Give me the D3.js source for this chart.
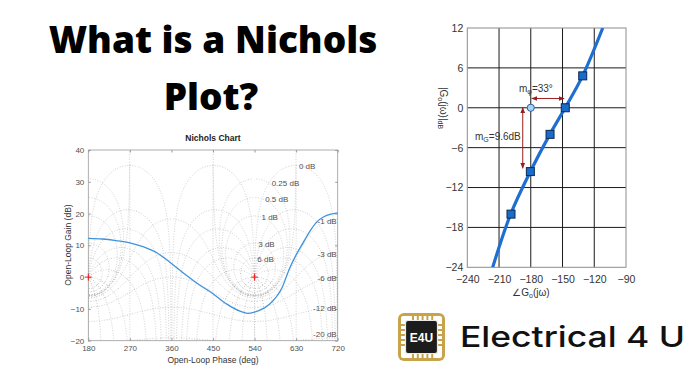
<!DOCTYPE html>
<html>
<head>
<meta charset="utf-8">
<script src="https://cdn.jsdelivr.net/npm/d3@7"></script>
<style>
  body { margin: 0; background: #fff; }
  svg { display: block; }
</style>
</head>
<body>
<script>
// ---- data ----
// open-loop response on the MATLAB style Nichols chart
var olPhase = [180, 210, 240, 270, 300, 330, 360, 390, 420, 450, 480, 510, 525, 540, 570, 600, 615, 630, 645, 660, 675, 690, 705, 720];
var olGain  = [12.2, 12.0, 11.5, 10.8, 9.5, 7.5, 4.3, 0.8, -2.4, -5.2, -8.5, -10.8, -11.4, -11.0, -8.8, -3.2, 2.5, 7.0, 10.8, 14.5, 17.4, 19.0, 19.8, 20.2];
var critPhase = [180, 540];

// grid levels (closed-loop gain in dB, closed-loop phase in deg)
var clGainDb = [6, 3, 1, 0.5, 0.25, 0, -1, -3, -6, -12, -20, -40];
var clPhaseDeg = [1, 5, 10, 20, 30, 50, 90, 120, 150, 180];
var extraPhaseLines = [270, 450, 630];

var ngPhaseTicks = [180, 270, 360, 450, 540, 630, 720];
var ngGainTicks = [-20, -10, 0, 10, 20, 30, 40];

var topLabels = ['0 dB', '0.25 dB', '0.5 dB', '1 dB', '3 dB', '6 dB'];
var topLabelPhase = [636, 577, 563, 555, 548, 546];
var topLabelGain = [35, 29.5, 24.5, 18.8, 10.4, 5.7];
var sideLabels = ['-1 dB', '-3 dB', '-6 dB', '-12 dB', '-20 dB'];
var sideLabelGain = [17.8, 7.3, -0.4, -9.8, -17.9];

// right hand chart: open loop near the critical point with margins
var linePhase = [-216, -199, -180.4, -162, -147.5, -131, -112];
var lineGain  = [-24, -16, -9.6, -4, 0, 4.8, 12];
var markPhase = [-198.7, -180.4, -161.8, -147.4, -130.9];
var markGain  = [-16, -9.6, -4, 0, 4.8];
var pmPhase = [-180, -148.5], pmGain = 1.4;
var gmGain = [0, -9.1], gmPhase = -187.6;
var rPhaseTicks = [-240, -210, -180, -150, -120, -90];
var rGainTicks = [-24, -18, -12, -6, 0, 6, 12];

var svg = d3.select('body').append('svg')
    .attr('width', 700)
    .attr('height', 375);

var defs = svg.append('defs');

// ---- heading ----
var head = svg.append('g')
    .attr('font-family', '"Open Sans", sans-serif')
    .attr('font-weight', 800)
    .attr('font-size', 37)
    .attr('text-anchor', 'middle')
    .attr('fill', '#000');
head.append('text').attr('x', 213).attr('y', 53).text('What is a Nichols');
head.append('text').attr('x', 211).attr('y', 110).text('Plot?');

// ---- left: Nichols chart ----
var L = { x0: 88.3, x1: 337.7, y0: 150, y1: 340.7 };
var nx = d3.scaleLinear().domain([180, 720]).range([L.x0, L.x1]);
var ny = d3.scaleLinear().domain([-20, 40]).range([L.y1, L.y0]);

defs.append('clipPath').attr('id', 'nclip')
  .append('rect')
    .attr('x', L.x0).attr('y', L.y0)
    .attr('width', L.x1 - L.x0).attr('height', L.y1 - L.y0);

// gain contour: |L/(1+L)| = const, swept over closed-loop phase
function mContour(db, c) {
    var m = Math.pow(10, db / 20), pts = [], prev = null;
    for (var i = 1; i < 3600; i++) {
        var th = -i * 0.1 * Math.PI / 180;
        var tr = m * Math.cos(th), ti = m * Math.sin(th);
        var den = (1 - tr) * (1 - tr) + ti * ti;
        var lr = (tr - m * m) / den, li = ti / den;
        var p = Math.atan2(li, lr) * 180 / Math.PI;
        if (prev === null) { if (p > 0) p -= 360; }
        else { while (p - prev > 180) p -= 360; while (prev - p > 180) p += 360; }
        prev = p;
        pts.push([c + 180 + p, 10 * Math.log10(lr * lr + li * li)]);
    }
    return pts;
}

// phase contour: arg(L/(1+L)) = const, swept over 1/L on a ray from -1
function nContour(deg, sign, c) {
    var pts = [];
    if (deg === 180) {
        for (var k = 0; k <= 200; k++) {
            var s = Math.pow(10, k / 40 - 2.5);
            pts.push([c, -20 * Math.log10(1 + s)]);
        }
        return pts;
    }
    var b = sign * deg * Math.PI / 180;
    for (var i = 1; i < 2000; i++) {
        var psi = b + (sign * Math.PI - b) * i / 2000;
        var s2 = Math.sin(psi) / Math.sin(psi - b);
        var wr = -1 + s2 * Math.cos(b), wi = s2 * Math.sin(b);
        var p = -psi * 180 / Math.PI;
        var x = sign > 0 ? c + 180 + p : c + p - 180;
        pts.push([x, -10 * Math.log10(wr * wr + wi * wi)]);
    }
    return pts;
}

var gridLine = d3.line()
    .defined(function(d) { return isFinite(d[1]) && d[1] > -80 && d[1] < 80; })
    .x(function(d) { return nx(d[0]); })
    .y(function(d) { return ny(d[1]); });

var contours = [];
critPhase.forEach(function(c) {
    clGainDb.forEach(function(db) { contours.push(mContour(db, c)); });
    clPhaseDeg.forEach(function(deg) {
        contours.push(nContour(deg, 1, c));
        contours.push(nContour(deg, -1, c));
    });
});
extraPhaseLines.forEach(function(ph) {
    contours.push([[ph, 35.2], [ph, -25]]);
});

var grid = svg.append('g').attr('clip-path', 'url(#nclip)');
grid.selectAll('path.ng')
    .data(contours)
  .enter().append('path')
    .attr('class', 'ng')
    .attr('d', gridLine)
    .attr('fill', 'none')
    .attr('stroke', '#b4b4b4')
    .attr('stroke-width', 0.6)
    .attr('stroke-dasharray', '1,1.6');

// frame + ticks
svg.append('rect')
    .attr('x', L.x0).attr('y', L.y0)
    .attr('width', L.x1 - L.x0).attr('height', L.y1 - L.y0)
    .attr('fill', 'none').attr('stroke', '#9a9a9a').attr('stroke-width', 0.8);

var nAxisB = svg.append('g').attr('transform', 'translate(0,' + L.y1 + ')')
    .call(d3.axisBottom(nx).tickValues(ngPhaseTicks).tickSize(-2.5).tickPadding(5));
var nAxisT = svg.append('g').attr('transform', 'translate(0,' + L.y0 + ')')
    .call(d3.axisTop(nx).tickValues(ngPhaseTicks).tickSize(-2.5).tickFormat(''));
var nAxisL = svg.append('g').attr('transform', 'translate(' + L.x0 + ',0)')
    .call(d3.axisLeft(ny).tickValues(ngGainTicks).tickSize(-2.5).tickPadding(4));
var nAxisR = svg.append('g').attr('transform', 'translate(' + L.x1 + ',0)')
    .call(d3.axisRight(ny).tickValues(ngGainTicks).tickSize(-2.5).tickFormat(''));
[nAxisB, nAxisT, nAxisL, nAxisR].forEach(function(a) {
    a.select('.domain').remove();
    a.selectAll('line').attr('stroke', '#9a9a9a');
    a.selectAll('text')
        .attr('fill', '#4f4f4f')
        .attr('font-size', 8)
        .attr('font-family', '"Liberation Sans", Arial, sans-serif');
});

// contour labels
var labs = svg.append('g')
    .attr('font-family', '"Liberation Sans", Arial, sans-serif')
    .attr('font-size', 8)
    .attr('fill', '#505050');
labs.selectAll('text.top')
    .data(topLabels)
  .enter().append('text')
    .attr('class', 'top')
    .attr('x', function(d, i) { return nx(topLabelPhase[i]); })
    .attr('y', function(d, i) { return ny(topLabelGain[i]) + 3; })
    .text(function(d) { return d; });
labs.selectAll('text.side')
    .data(sideLabels)
  .enter().append('text')
    .attr('class', 'side')
    .attr('x', L.x1 - 1)
    .attr('y', function(d, i) { return ny(sideLabelGain[i]) + 3; })
    .attr('text-anchor', 'end')
    .text(function(d) { return d; });

// open-loop curve
var olLine = d3.line()
    .curve(d3.curveMonotoneX)
    .x(function(d, i) { return nx(olPhase[i]); })
    .y(function(d) { return ny(d); });
svg.append('path')
    .attr('d', olLine(olGain))
    .attr('fill', 'none')
    .attr('stroke', '#3f93dd')
    .attr('stroke-width', 1.3);

// critical points
svg.selectAll('g.crit')
    .data(critPhase)
  .enter().append('path')
    .attr('d', function(d) {
        var x = nx(d), y = ny(0);
        return 'M' + (x - 3.5) + ',' + y + 'H' + (x + 3.5) + 'M' + x + ',' + (y - 3.5) + 'V' + (y + 3.5);
    })
    .attr('stroke', '#f01818')
    .attr('stroke-width', 1);

svg.append('text')
    .attr('x', 213).attr('y', 141)
    .attr('text-anchor', 'middle')
    .attr('font-family', '"Liberation Sans", Arial, sans-serif')
    .attr('font-weight', 'bold')
    .attr('font-size', 8.5)
    .attr('fill', '#222')
    .text('Nichols Chart');
svg.append('text')
    .attr('x', 213).attr('y', 363)
    .attr('text-anchor', 'middle')
    .attr('font-family', '"Liberation Sans", Arial, sans-serif')
    .attr('font-size', 8.5)
    .attr('fill', '#333')
    .text('Open-Loop Phase (deg)');
svg.append('text')
    .attr('transform', 'translate(71,245) rotate(-90)')
    .attr('text-anchor', 'middle')
    .attr('font-family', '"Liberation Sans", Arial, sans-serif')
    .attr('font-size', 8.5)
    .attr('fill', '#333')
    .text('Open-Loop Gain (dB)');

// ---- right: margins plot ----
var R = { x0: 467.3, x1: 626, y0: 28, y1: 267.3 };
var rx = d3.scaleLinear().domain([-240, -90]).range([R.x0, R.x1]);
var ry = d3.scaleLinear().domain([-24, 12]).range([R.y1, R.y0]);

defs.append('clipPath').attr('id', 'rclip')
  .append('rect')
    .attr('x', R.x0).attr('y', R.y0)
    .attr('width', R.x1 - R.x0).attr('height', R.y1 - R.y0);

var rg = svg.append('g');
rg.selectAll('line.vx')
    .data(rPhaseTicks.slice(1, -1))
  .enter().append('line')
    .attr('x1', rx).attr('x2', rx)
    .attr('y1', R.y0).attr('y2', R.y1)
    .attr('stroke', '#1a1a1a').attr('stroke-width', 1);
rg.selectAll('line.hy')
    .data(rGainTicks.slice(1, -1))
  .enter().append('line')
    .attr('x1', R.x0).attr('x2', R.x1)
    .attr('y1', ry).attr('y2', ry)
    .attr('stroke', '#1a1a1a').attr('stroke-width', 1);
rg.append('rect')
    .attr('x', R.x0).attr('y', R.y0)
    .attr('width', R.x1 - R.x0).attr('height', R.y1 - R.y0)
    .attr('fill', 'none').attr('stroke', '#8c8c8c').attr('stroke-width', 1);

var rAxisB = svg.append('g').attr('transform', 'translate(0,' + R.y1 + ')')
    .call(d3.axisBottom(rx).tickValues(rPhaseTicks).tickSize(0).tickPadding(8));
var rAxisL = svg.append('g').attr('transform', 'translate(' + R.x0 + ',0)')
    .call(d3.axisLeft(ry).tickValues(rGainTicks).tickSize(0).tickPadding(4));
[rAxisB, rAxisL].forEach(function(a) {
    a.select('.domain').remove();
    a.selectAll('text')
        .attr('fill', '#333')
        .attr('font-size', 10.5)
        .attr('font-family', '"Liberation Sans", Arial, sans-serif');
});

// margin arrows
var arrowCol = '#9a1d1d';
['s', 'e'].forEach(function(k) {
    defs.append('marker')
        .attr('id', 'ah' + k)
        .attr('viewBox', '0 0 10 10')
        .attr('refX', 9).attr('refY', 5)
        .attr('markerWidth', 6).attr('markerHeight', 6)
        .attr('orient', k === 's' ? 'auto-start-reverse' : 'auto')
      .append('path')
        .attr('d', 'M0,1L10,5L0,9Z')
        .attr('fill', arrowCol);
});
svg.append('line')
    .attr('x1', rx(pmPhase[0]) + 1).attr('x2', rx(pmPhase[1]))
    .attr('y1', ry(pmGain)).attr('y2', ry(pmGain))
    .attr('stroke', arrowCol).attr('stroke-width', 1)
    .attr('marker-start', 'url(#ahs)').attr('marker-end', 'url(#ahe)');
svg.append('line')
    .attr('x1', rx(gmPhase)).attr('x2', rx(gmPhase))
    .attr('y1', ry(gmGain[0])).attr('y2', ry(gmGain[1]))
    .attr('stroke', arrowCol).attr('stroke-width', 1)
    .attr('marker-start', 'url(#ahs)').attr('marker-end', 'url(#ahe)');

var rLine = d3.line()
    .curve(d3.curveCatmullRom)
    .x(function(d, i) { return rx(linePhase[i]); })
    .y(function(d) { return ry(d); });
svg.append('path')
    .attr('clip-path', 'url(#rclip)')
    .attr('d', rLine(lineGain))
    .attr('fill', 'none')
    .attr('stroke', '#1f6fd2')
    .attr('stroke-width', 3.2);

svg.selectAll('rect.mk')
    .data(markGain)
  .enter().append('rect')
    .attr('class', 'mk')
    .attr('x', function(d, i) { return rx(markPhase[i]) - 4; })
    .attr('y', function(d) { return ry(d) - 4; })
    .attr('width', 8).attr('height', 8)
    .attr('fill', '#1a6ccc')
    .attr('stroke', '#0f2850')
    .attr('stroke-width', 1);

svg.append('circle')
    .attr('cx', rx(-180)).attr('cy', ry(0)).attr('r', 3.6)
    .attr('fill', '#a9d2f6')
    .attr('stroke', '#2b5f9e')
    .attr('stroke-width', 1);

var rtxt = svg.append('g')
    .attr('font-family', '"Liberation Sans", Arial, sans-serif')
    .attr('font-size', 10)
    .attr('fill', '#333');
var t1 = rtxt.append('text').attr('x', 519).attr('y', 92);
t1.append('tspan').text('m');
t1.append('tspan').attr('font-size', 7).attr('dy', 2).text('φ');
t1.append('tspan').attr('dy', -2).text('=33°');
var t2 = rtxt.append('text').attr('x', 475).attr('y', 140);
t2.append('tspan').text('m');
t2.append('tspan').attr('font-size', 7).attr('dy', 2).text('G');
t2.append('tspan').attr('dy', -2).text('=9.6dB');
var t3 = rtxt.append('text').attr('x', 531).attr('y', 296).attr('text-anchor', 'middle');
t3.append('tspan').text('∠G');
t3.append('tspan').attr('font-size', 7).attr('dy', 2).text('o');
t3.append('tspan').attr('dy', -2).text('(jω)');
var t4 = rtxt.append('text')
    .attr('transform', 'translate(440,108) rotate(90)')
    .attr('text-anchor', 'middle');
t4.append('tspan').text('|G');
t4.append('tspan').attr('font-size', 7).attr('dy', 2).text('o');
t4.append('tspan').attr('dy', -2).text('(jω)|');
t4.append('tspan').attr('font-size', 7).attr('dy', 2).text('dB');

// ---- logo ----
var logo = svg.append('g');
logo.append('rect')
    .attr('x', 398).attr('y', 313).attr('width', 47).attr('height', 48).attr('rx', 6)
    .attr('fill', '#c7a34c');
logo.append('rect')
    .attr('x', 401).attr('y', 316).attr('width', 41).attr('height', 42).attr('rx', 2)
    .attr('fill', '#fff');
var pins = d3.range(5);
pins.forEach(function(k) {
    var px = 412 + k * 4.8, py = 324 + k * 5;
    logo.append('rect').attr('x', px).attr('y', 316).attr('width', 2).attr('height', 5).attr('fill', '#c7a34c');
    logo.append('rect').attr('x', px).attr('y', 353).attr('width', 2).attr('height', 5).attr('fill', '#c7a34c');
    logo.append('rect').attr('x', 401).attr('y', py).attr('width', 5).attr('height', 2).attr('fill', '#c7a34c');
    logo.append('rect').attr('x', 437).attr('y', py).attr('width', 5).attr('height', 2).attr('fill', '#c7a34c');
});
logo.append('rect')
    .attr('x', 405.5).attr('y', 320.5).attr('width', 32).attr('height', 33).attr('rx', 2.5)
    .attr('fill', '#1c1c1c')
    .attr('stroke', '#e8e8e8').attr('stroke-width', 1.2);
logo.append('text')
    .attr('x', 421.5).attr('y', 341.5)
    .attr('text-anchor', 'middle')
    .attr('font-family', '"Liberation Sans", Arial, sans-serif')
    .attr('font-weight', 'bold')
    .attr('font-size', 12)
    .attr('fill', '#fff')
    .text('E4U');
svg.append('text')
    .attr('x', 460).attr('y', 347)
    .attr('font-family', 'Inter, "Noto Sans", sans-serif')
    .attr('font-weight', 500)
    .attr('font-size', 29)
    .attr('textLength', 225)
    .attr('lengthAdjust', 'spacingAndGlyphs')
    .attr('fill', '#111')
    .text('Electrical 4 U');
</script>
</body>
</html>
